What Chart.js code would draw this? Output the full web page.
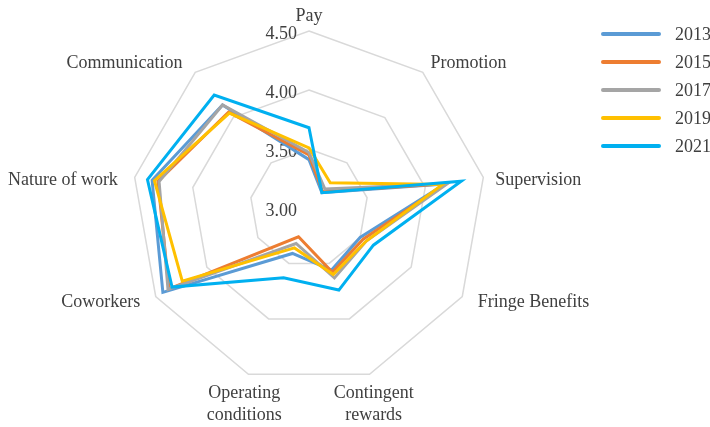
<!DOCTYPE html>
<html>
<head>
<meta charset="utf-8">
<script src="https://cdn.jsdelivr.net/npm/chart.js"></script>
<style>
  html, body { margin: 0; padding: 0; background: #fff; }
  #wrap { position: relative; width: 710px; height: 427px; }
  #legend { position: absolute; left: 601px; top: 20px; font-family: "Liberation Serif", serif; font-size: 18px; color: #404040; }
  .row { display: flex; align-items: center; height: 28px; }
  .swatch { width: 60px; height: 4px; border-radius: 2px; margin-right: 14px; }
</style>
</head>
<body>
<div id="wrap">
  <canvas id="radar" width="710" height="427"></canvas>
  <div id="legend"></div>
</div>
<script>
const facets = ["Pay", "Promotion", "Supervision", "Fringe Benefits", ["Contingent", "rewards"],
  ["Operating", "conditions"], "Coworkers", "Nature of work", "Communication"];
const years = ["2013", "2015", "2017", "2019", "2021"];
const colors = ["#5B9BD5", "#ED7D31", "#A5A5A5", "#FFC000", "#00B0F0"];

const y2013 = [3.41, 3.17, 4.17, 3.50, 3.56, 3.41, 4.43, 4.35, 4.14];
const y2015 = [3.45, 3.18, 4.18, 3.53, 3.58, 3.26, 4.37, 4.30, 4.06];
const y2017 = [3.47, 3.21, 4.19, 3.56, 3.63, 3.32, 4.38, 4.29, 4.14];
const y2019 = [3.51, 3.28, 4.15, 3.56, 3.60, 3.36, 4.24, 4.33, 4.05];
const y2021 = [3.68, 3.17, 4.31, 3.63, 3.74, 3.63, 4.34, 4.39, 4.25];
const series = [y2013, y2015, y2017, y2019, y2021];

const textColor = "#404040";
const font = '18px "Liberation Serif", serif';

// tick labels and facet names drawn by hand so they sit where excel puts them
const radarText = {
  id: "radarText",
  beforeDatasetsDraw(chart) {
    const r = chart.scales.r;
    const ctx = chart.ctx;
    ctx.save();
    ctx.font = font;
    ctx.fillStyle = textColor;
    ctx.textAlign = "right";
    ctx.textBaseline = "middle";
    r.ticks.forEach((t) => {
      const y = r.yCenter - r.getDistanceFromCenterForValue(t.value);
      ctx.fillText(t.value.toFixed(2), r.xCenter - 12, y + 3);
    });
    ctx.restore();
  },
  afterDraw(chart) {
    const r = chart.scales.r;
    const ctx = chart.ctx;
    ctx.save();
    ctx.font = font;
    ctx.fillStyle = textColor;
    ctx.textBaseline = "middle";
    chart.data.labels.forEach((lab, i) => {
      const p = r.getPointPosition(i, r.drawingArea + 12);
      const ang = r.getIndexAngle(i) - Math.PI / 2;
      const c = Math.cos(ang);
      const s = Math.sin(ang);
      const lines = [].concat(lab);
      const lh = 22;
      let x = p.x;
      let y;
      if (Math.abs(s) > 0.9) {
        ctx.textAlign = "center";
        y = s < 0 ? p.y - 3 - (lines.length - 1) * lh : p.y + 8;
      } else {
        ctx.textAlign = c > 0 ? "left" : "right";
        y = p.y + (Math.abs(s) < 0.3 ? 5 : 0);
        if (s > 0 && c > 0) x += 5;
        if (c < 0) x -= 5;
      }
      lines.forEach((txt, k) => ctx.fillText(txt, x, y + k * lh));
    });
    ctx.restore();
  },
};

const datasets = years.map((yr, i) => ({
  label: yr,
  data: series[i],
  borderColor: colors[i],
  backgroundColor: colors[i],
  borderWidth: 3,
  pointRadius: 0,
  fill: false,
  tension: 0,
  order: years.length - 1 - i,
}));

new Chart(document.getElementById("radar"), {
  type: "radar",
  data: { labels: facets, datasets: datasets },
  options: {
    responsive: false,
    animation: false,
    layout: { padding: { left: 132, right: 224, top: 31, bottom: 42 } },
    plugins: { legend: { display: false }, tooltip: { enabled: false } },
    scales: {
      r: {
        min: 3,
        max: 4.5,
        ticks: { stepSize: 0.5, display: false, showLabelBackdrop: false },
        grid: { color: "#d9d9d9", lineWidth: 1.5 },
        angleLines: { display: false },
        pointLabels: { display: false },
      },
    },
  },
  plugins: [radarText],
});

const legend = document.getElementById("legend");
years.forEach((yr, i) => {
  legend.innerHTML += `<div class="row"><span class="swatch" style="background:${colors[i]}"></span>${yr}</div>`;
});
</script>
</body>
</html>
